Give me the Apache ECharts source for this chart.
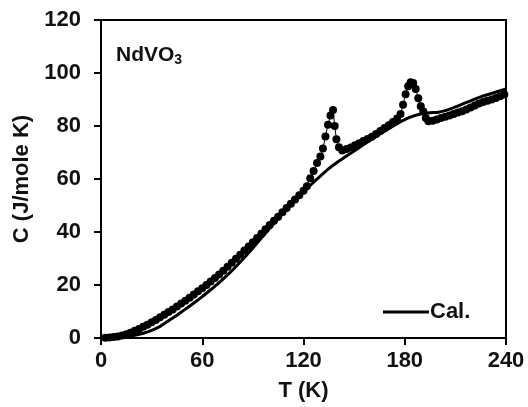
<!DOCTYPE html>
<html><head><meta charset="utf-8">
<script src="https://cdn.jsdelivr.net/npm/echarts@6/dist/echarts.min.js"></script>
<style>html,body{margin:0;padding:0;background:#fff}#c{width:528px;height:407px}</style>
</head><body><div id="c"></div>
<script>
var xTicks = [0, 60, 120, 180, 240];
var yTicks = [0, 20, 40, 60, 80, 100, 120];
var measT = [2.5,5,7.5,10,12.5,15,17.5,20,22.5,25,27.5,30,32.5,35,37.5,40,42.5,45,47.5,50,52.5,55,57.5,60,62.5,65,67.5,70,72.5,75,77.5,80,82.5,85,87.5,90,92.5,95,97.5,100,102.5,105,107.5,110,112.5,115,117.5,120,122,124,126,128,130,131.5,133,134.5,136,137.5,138.5,139.5,141,143,145.5,148,150.5,153,155.5,158,160.5,163,165.5,168,170.5,173,175.5,177.5,179,180.5,182,183.5,185,186.5,188,189.5,191,192.5,194,196.5,199,201.5,204,206.5,209,211.5,214,216.5,219,221.5,224,226.5,229,231.5,234,236.5,239];
var measC = [0.05,0.15,0.35,0.6,0.95,1.4,2.0,2.7,3.4,4.2,5.0,5.9,6.8,7.8,8.8,9.8,10.8,11.9,13.0,14.1,15.2,16.4,17.6,18.8,20.0,21.3,22.6,24.0,25.4,26.9,28.4,29.9,31.4,33.0,34.5,36.1,37.7,39.3,41.0,42.6,44.2,45.8,47.5,49.1,50.7,52.3,53.9,55.6,57.3,60.3,63.0,66.0,68.5,71.5,76.0,80.5,84.0,86.0,80.0,75.0,72.0,70.8,71.3,71.9,72.7,73.5,74.3,75.1,75.9,77.0,78.1,79.2,80.3,81.5,82.8,84.5,88.0,92.0,95.0,96.5,96.2,94.0,90.5,87.5,85.5,83.0,81.8,82.0,82.5,83.0,83.5,84.0,84.5,85.1,85.6,86.2,87.0,87.7,88.5,89.1,89.5,90.0,90.6,91.2,91.9];
var calcT = [0,10,20,25,30,35,40,45,50,55,60,65,70,75,80,85,90,95,100,105,110,115,120,125,130,135,140,145,150,155,160,165,170,175,180,185,190,195,200,205,210,215,220,225,230,235,240];
var calcC = [0,0.15,1.0,1.8,2.9,4.4,6.5,8.6,10.9,13.2,15.6,18.2,20.9,23.8,27.0,30.4,34.0,37.7,41.4,45.0,48.5,51.8,55.0,58.2,61.1,63.9,66.3,68.5,70.6,72.7,74.8,76.8,78.8,80.7,82.4,83.7,84.6,85.0,85.2,86.0,87.2,88.5,89.8,91.0,92.0,93.0,94.0];

function pairs(a, b){ return a.map(function(v,i){ return [v, b[i]]; }); }
var font = '"Liberation Sans", Arial, sans-serif';
var chart = echarts.init(document.getElementById('c'), null, {renderer:'canvas'});
chart.setOption({
  animation: false,
  backgroundColor: '#fff',
  grid: {left: 101, right: 22, top: 20, bottom: 67, show: true, borderColor: '#000', borderWidth: 2, containLabel: false},
  title: {
    text: '{a|NdVO}{b|3}', left: 111, top: 38,
    textStyle: {rich: {
      a: {fontFamily: font, fontWeight: 'bold', fontSize: 21, color: '#111'},
      b: {fontFamily: font, fontWeight: 'bold', fontSize: 14, color: '#111', verticalAlign: 'bottom', padding: [10,0,0,0]}
    }}
  },
  legend: {
    data: ['Cal.'], left: 378, top: 296, icon: 'rect', itemWidth: 46, itemHeight: 3, itemGap: 5,
    textStyle: {fontFamily: font, fontWeight: 'bold', fontSize: 22, color: '#111', padding: [0,0,0,-4]}
  },
  xAxis: {
    type: 'value', min: xTicks[0], max: xTicks[xTicks.length-1], interval: 60,
    name: 'T (K)', nameLocation: 'middle', nameGap: 42,
    nameTextStyle: {fontFamily: font, fontWeight: 'bold', fontSize: 22, color: '#111'},
    axisLine: {lineStyle: {color: '#000', width: 2}},
    axisTick: {inside: false, length: 7, lineStyle: {color: '#000', width: 2}},
    axisLabel: {fontFamily: font, fontWeight: 'bold', fontSize: 22, color: '#111', margin: 12},
    splitLine: {show: false}
  },
  yAxis: {
    type: 'value', min: yTicks[0], max: yTicks[yTicks.length-1], interval: 20,
    name: 'C (J/mole K)', nameLocation: 'middle', nameGap: 67, nameRotate: 90,
    nameTextStyle: {fontFamily: font, fontWeight: 'bold', fontSize: 22, color: '#111'},
    axisLine: {lineStyle: {color: '#000', width: 2}},
    axisTick: {inside: false, length: 7, lineStyle: {color: '#000', width: 2}},
    axisLabel: {fontFamily: font, fontWeight: 'bold', fontSize: 22, color: '#111', margin: 20},
    splitLine: {show: false}
  },
  series: [
    {
      name: 'Exp.', type: 'line', data: pairs(measT, measC),
      symbol: 'circle', symbolSize: 8, showSymbol: true,
      itemStyle: {color: '#000'},
      lineStyle: {color: '#000', width: 1}, z: 2
    },
    {
      name: 'Cal.', type: 'line', data: pairs(calcT, calcC), smooth: 0.3,
      symbol: 'none', itemStyle: {color: '#000'},
      lineStyle: {color: '#000', width: 3}, z: 3
    }
  ]
});
</script></body></html>
